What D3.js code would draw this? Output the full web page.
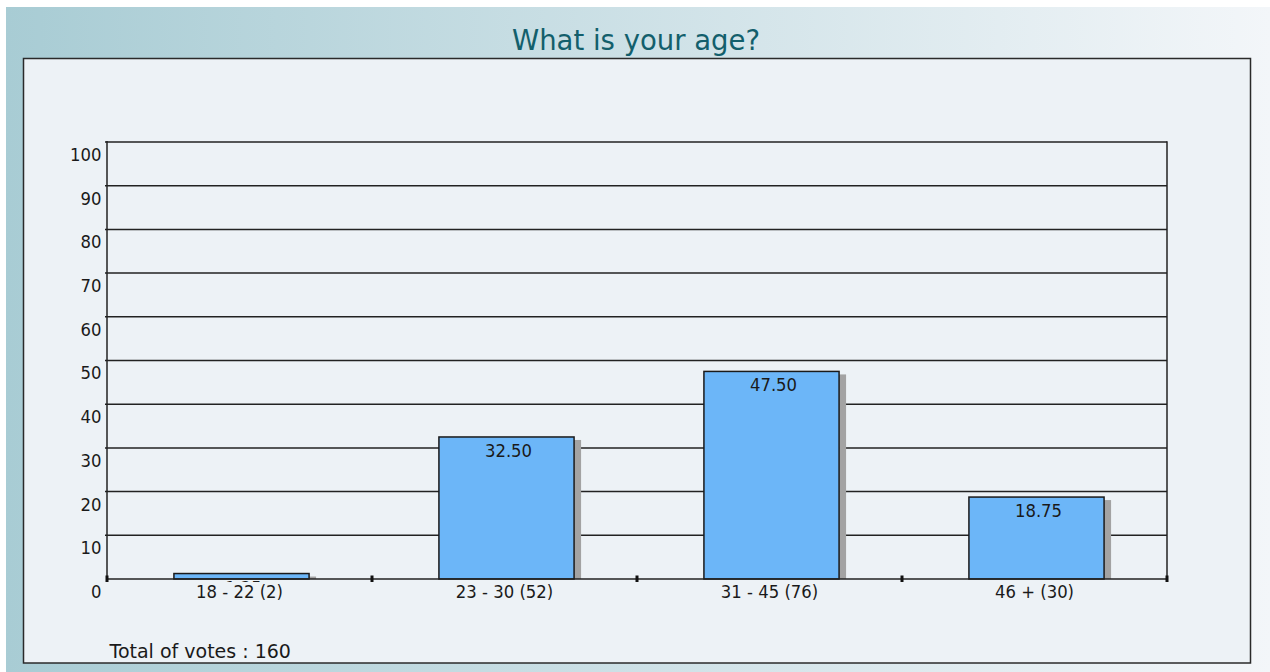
<!DOCTYPE html>
<html>
<head>
<meta charset="utf-8">
<script src="https://cdn.jsdelivr.net/npm/d3@7"></script>
<style>
  html, body { margin: 0; padding: 0; background: #ffffff; }
  svg { display: block; }
</style>
</head>
<body>
<svg id="chart" width="1270" height="672"></svg>
<script>
// ---- data ----
const categories = ["18 - 22 (2)", "23 - 30 (52)", "31 - 45 (76)", "46 + (30)"];
const percentages = [1.25, 32.50, 47.50, 18.75];
const yTicks = [0, 10, 20, 30, 40, 50, 60, 70, 80, 90, 100];
const chartTitle = "What is your age?";
const totalText = "Total of votes : 160";

// ---- layout ----
const W = 1270, H = 672;
const plot = { left: 107, right: 1167, top: 142, bottom: 579 };
const font = "'DejaVu Sans', Verdana, sans-serif";
const labelSize = 16.5, labelScaleY = 1.12;

const svg = d3.select("#chart");
const defs = svg.append("defs");
const grad = defs.append("linearGradient").attr("id", "bg").attr("x1", 0).attr("x2", 1).attr("y1", 0).attr("y2", 0);
grad.append("stop").attr("offset", "0%").attr("stop-color", "#a8ccd4");
grad.append("stop").attr("offset", "100%").attr("stop-color", "#f3f6f9");

defs.append("clipPath").attr("id", "valclip").append("rect")
  .attr("x", plot.left).attr("y", plot.top - 5)
  .attr("width", plot.right - plot.left).attr("height", plot.bottom - plot.top + 8);

// background
svg.append("rect").attr("x", 0).attr("y", 0).attr("width", W).attr("height", H).attr("fill", "#ffffff");
svg.append("rect").attr("x", 6).attr("y", 7).attr("width", W - 6).attr("height", H - 7).attr("fill", "url(#bg)");

// panel
svg.append("rect").attr("x", 23.5).attr("y", 58.5).attr("width", 1227).attr("height", 604.5)
  .attr("fill", "#edf2f6").attr("stroke", "#2a2a2a").attr("stroke-width", 1.5);

// title
svg.append("text").attr("x", 636).attr("y", 50).attr("text-anchor", "middle")
  .attr("font-family", font).attr("font-size", 27.5).attr("fill", "#135f6c")
  .text(chartTitle);

// scales
const x = d3.scaleBand().domain(categories).range([plot.left, plot.right])
  .paddingInner(0.49).paddingOuter(0.245);
const y = d3.scaleLinear().domain([0, 100]).range([plot.bottom, plot.top]);
const barShift = 2;

// gridlines
svg.append("g").selectAll("line").data(yTicks.filter(d => d > 0)).join("line")
  .attr("x1", plot.left - 2).attr("x2", plot.right)
  .attr("y1", d => y(d)).attr("y2", d => y(d))
  .attr("stroke", "#222").attr("stroke-width", 1.5);

// right border of plot
svg.append("line").attr("x1", plot.right).attr("x2", plot.right)
  .attr("y1", plot.top - 0.75).attr("y2", plot.bottom)
  .attr("stroke", "#222").attr("stroke-width", 1.5);

// y axis with d3 axis
const yAxis = d3.axisLeft(y).tickValues(yTicks).tickSize(0).tickPadding(6).tickFormat(d3.format("d"));
const yg = svg.append("g").attr("transform", `translate(${plot.left},0)`).call(yAxis);
yg.select(".domain").attr("stroke", "#222").attr("stroke-width", 1.5).attr("d", `M0,${plot.top - 1}V${plot.bottom}`);
yg.selectAll(".tick text")
  .attr("font-family", font).attr("font-size", labelSize).attr("fill", "#1a1a1a")
  .attr("x", 0).attr("y", 0).attr("dy", null)
  .attr("text-anchor", "end")
  .attr("transform", `translate(-5.5,18.4) scale(1,${labelScaleY})`);

// shadows
svg.append("g").selectAll("rect").data(percentages).join("rect")
  .attr("x", (d, i) => x(categories[i]) + barShift + x.bandwidth())
  .attr("y", d => y(d) + 3)
  .attr("width", 7)
  .attr("height", d => plot.bottom - y(d) - 3)
  .attr("fill", "#a3a3a3");

// bars
svg.append("g").selectAll("rect").data(percentages).join("rect")
  .attr("x", (d, i) => x(categories[i]) + barShift)
  .attr("y", d => y(d))
  .attr("width", x.bandwidth())
  .attr("height", d => plot.bottom - y(d))
  .attr("fill", "#6cb6f8").attr("stroke", "#1a1a1a").attr("stroke-width", 1.5);

// x axis baseline via d3 axis
const xAxis = d3.axisBottom(x).tickSize(0).tickFormat("");
const xg = svg.append("g").attr("transform", `translate(0,${plot.bottom})`).call(xAxis);
xg.select(".domain").attr("stroke", "#222").attr("stroke-width", 1.5).attr("d", `M${plot.left},0H${plot.right}`);
xg.selectAll(".tick").remove();

// separator tick marks at band boundaries
const boundaries = categories.map(c => x(c) - x.step() * x.paddingInner() / 2 - (x(categories[0]) - plot.left - x.step() * x.paddingInner() / 2));
const sepX = categories.map((c, i) => plot.left + i * x.step()).concat([plot.right]);
svg.append("g").selectAll("rect").data(sepX).join("rect")
  .attr("x", d => d - 1.5).attr("y", plot.bottom - 3.5)
  .attr("width", 3).attr("height", 6.5)
  .attr("fill", "#111");

// category labels
svg.append("g").selectAll("text").data(categories).join("text")
  .attr("transform", c => `translate(${x(c) + x.bandwidth() / 2},597.5) scale(1,${labelScaleY})`)
  .attr("text-anchor", "middle")
  .attr("font-family", font).attr("font-size", labelSize).attr("fill", "#1a1a1a")
  .text(c => c);

// value labels (clipped just below the baseline, as in the original)
svg.append("g").attr("clip-path", "url(#valclip)").selectAll("text").data(percentages).join("text")
  .attr("transform", (d, i) => `translate(${x(categories[i]) + barShift + x.bandwidth() / 2 + 2},${y(d) + 20}) scale(1,${labelScaleY})`)
  .attr("text-anchor", "middle")
  .attr("font-family", font).attr("font-size", labelSize).attr("fill", "#1a1a1a")
  .text(d => d3.format(".2f")(d));

// total
svg.append("text").attr("x", 109.5).attr("y", 658)
  .attr("font-family", font).attr("font-size", 19).attr("fill", "#1a1a1a")
  .text(totalText);
</script>
</body>
</html>
